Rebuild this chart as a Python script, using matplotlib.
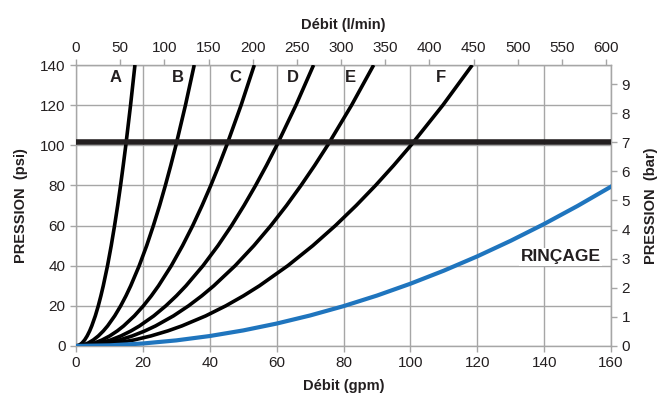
import numpy as np
import matplotlib.pyplot as plt

plt.rcParams['font.family'] = ['Liberation Sans', 'DejaVu Sans']

# pressure levels (psi) at which the flow of each nozzle curve was read
psi_pts = [0, 0.5, 1.5, 3, 5, 7.5, 10, 15, 20, 25, 30, 40, 50, 60, 70, 80, 90,
           100, 120, 140]

# flow (gpm) for each curve
curve_A = [0, 1.05, 1.82, 2.58, 3.33, 4.08, 4.71, 5.77, 6.66, 7.44, 8.15, 9.42,
           10.53, 11.53, 12.46, 13.32, 14.12, 14.89, 16.31, 17.62]
curve_B = [0, 2.11, 3.66, 5.17, 6.68, 8.18, 9.45, 11.57, 13.36, 14.94, 16.36,
           18.90, 21.13, 23.14, 25.00, 26.72, 28.34, 29.88, 32.73, 35.35]
curve_C = [0, 3.19, 5.52, 7.81, 10.08, 12.34, 14.25, 17.45, 20.15, 22.53, 24.68,
           28.50, 31.86, 34.91, 37.70, 40.31, 42.75, 45.06, 49.37, 53.32]
curve_D = [0, 4.25, 7.36, 10.40, 13.43, 16.45, 18.99, 23.26, 26.86, 30.03, 32.89,
           37.98, 42.46, 46.52, 50.24, 53.71, 56.97, 60.05, 65.78, 71.05]
curve_E = [0, 5.32, 9.22, 13.03, 16.82, 20.60, 23.79, 29.14, 33.65, 37.62, 41.21,
           47.59, 53.20, 58.28, 62.95, 67.29, 71.38, 75.24, 82.42, 89.02]
curve_F = [0, 7.08, 12.27, 17.35, 22.39, 27.43, 31.67, 38.79, 44.79, 50.08, 54.86,
           63.34, 70.82, 77.58, 83.79, 89.58, 95.01, 100.15, 109.71, 118.50]
curves = [curve_A, curve_B, curve_C, curve_D, curve_E, curve_F]
curve_names = ['A', 'B', 'C', 'D', 'E', 'F']
name_x = [11.7, 30.5, 47.5, 64.9, 82.0, 109.0]

# rinse curve
rinse_gpm = [0, 10, 20, 30, 40, 50, 60, 70, 80, 90, 100, 110, 120, 130, 140, 150, 160]
rinse_psi = [0, 0.31, 1.24, 2.79, 4.96, 7.75, 11.17, 15.20, 19.85, 25.12, 31.02,
             37.53, 44.66, 52.42, 60.79, 69.79, 79.4]

limit_psi = 101.5   # 7 bar

GPM_TO_LMIN = 3.785
PSI_TO_BAR = 14.5

txt = '#231f20'
grid = '#a6a6a6'

fig = plt.figure(figsize=(6.68, 4.11), dpi=100)
ax = fig.add_axes([0.1138, 0.1582, 0.8009, 0.6836])

ax.set_xlim(0, 160)
ax.set_ylim(0, 140)
ax.set_xticks(np.arange(0, 161, 20))
ax.set_yticks(np.arange(0, 141, 20))
ax.grid(True, color=grid, lw=1.0)
ax.set_axisbelow(True)

for q in curves:
    ax.plot(q, psi_pts, color='black', lw=2.6, solid_capstyle='butt',
            solid_joinstyle='round', zorder=3)
ax.plot(rinse_gpm, rinse_psi, color='#1f75be', lw=3.0, zorder=3,
        solid_joinstyle='round')
ax.plot([0, 160], [limit_psi, limit_psi], color=txt, lw=4.0, zorder=4,
        solid_capstyle='butt')

for n, x in zip(curve_names, name_x):
    ax.text(x, 134, n, ha='center', va='center', fontsize=12, fontweight='bold',
            color=txt)
ax.text(145, 44.5, 'RINÇAGE', ha='center', va='center', fontsize=12.5,
        fontweight='bold', color=txt,
        bbox=dict(facecolor='white', edgecolor='none', pad=1))

for s in ax.spines.values():
    s.set_color(grid)
    s.set_linewidth(1.0)
ax.tick_params(colors=grid, labelcolor=txt, labelsize=11, length=4, width=1.0)

ax.set_xlabel('Débit (gpm)', fontsize=10.5, fontweight='bold', color=txt, labelpad=6)
ax.set_ylabel('PRESSION  (psi)', fontsize=10.5, fontweight='bold', color=txt, labelpad=9)

top = ax.secondary_xaxis('top', functions=(lambda q: q * GPM_TO_LMIN,
                                           lambda l: l / GPM_TO_LMIN))
top.set_xticks(np.arange(0, 601, 50))
top.tick_params(colors=grid, labelcolor=txt, labelsize=11, length=4, width=1.0)
top.spines['top'].set_color(grid)
top.set_xlabel('Débit (l/min)', fontsize=10.5, fontweight='bold', color=txt, labelpad=8)

right = ax.secondary_yaxis('right', functions=(lambda p: p / PSI_TO_BAR,
                                               lambda b: b * PSI_TO_BAR))
right.set_yticks(np.arange(0, 10, 1))
right.tick_params(colors=grid, labelcolor=txt, labelsize=11, length=4, width=1.0)
right.spines['right'].set_color(grid)
right.set_ylabel('PRESSION  (bar)', fontsize=10.5, fontweight='bold', color=txt, labelpad=10)

fig.savefig('out.png', dpi=100)
